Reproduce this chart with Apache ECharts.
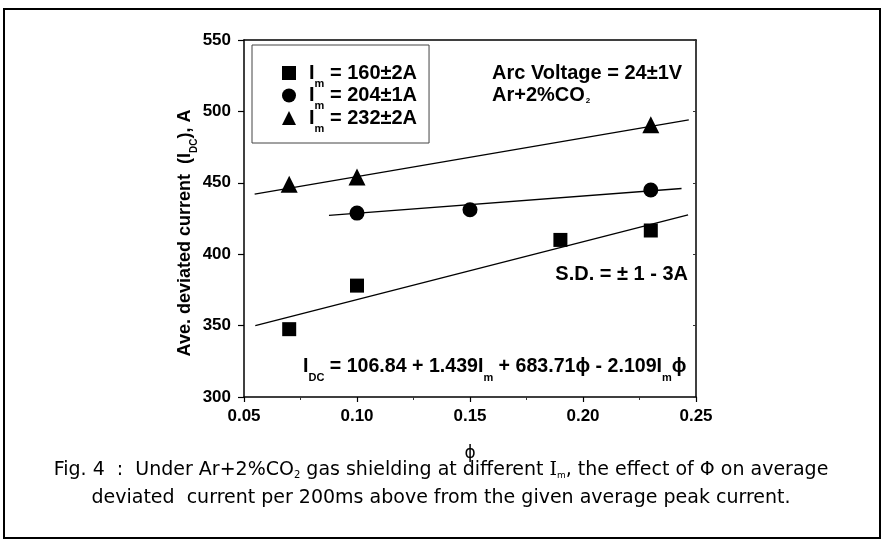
<!DOCTYPE html>
<html><head><meta charset="utf-8">
<script src="https://cdn.jsdelivr.net/npm/echarts@6/dist/echarts.min.js"></script>
<style>html,body{margin:0;padding:0;background:#fff}#c{width:882px;height:540px}</style>
</head><body><div id="c"></div>
<script>
// ---- data ----
const xTicks = [0.05, 0.10, 0.15, 0.20, 0.25];
const yTicks = [300, 350, 400, 450, 500, 550];
const seriesNames = ['Im160', 'Im204', 'Im232'];
const legendLabels = [' = 160±2A', ' = 204±1A', ' = 232±2A'];
const pts160 = [[0.07, 347.5], [0.10, 378], [0.19, 410], [0.23, 416.6]];
const pts204 = [[0.10, 428.8], [0.15, 431.1], [0.23, 445]];
const pts232 = [[0.07, 449], [0.10, 454], [0.23, 490.7]];
const fit160 = [[0.055, 350], [0.2465, 427.5]];
const fit204 = [[0.0876, 427.2], [0.2436, 446]];
const fit232 = [[0.0547, 442], [0.2468, 494]];

const FAM = '"Liberation Sans", Arial, sans-serif';
const BOLD = 'bold 20px "Liberation Sans", Arial, sans-serif';
const mainTok = { fontFamily: FAM, fontWeight: 'bold', fontSize: 20, color: '#000' };
const subTok = { fontFamily: FAM, fontWeight: 'bold', fontSize: 11, color: '#000', padding: [21, 0, 0, 0] };
const CAP = '"DejaVu Sans", sans-serif';

const chart = echarts.init(document.getElementById('c'), null, { renderer: 'canvas' });
const fitStyle = { color: '#000', width: 1.3 };
const ptStyle = { color: '#000', opacity: 1 };
const option = {
  backgroundColor: '#fff',
  animation: false,
  grid: { left: 244, top: 40, width: 452, height: 357 },
  legend: {
    left: 252, top: 45, orient: 'vertical',
    data: seriesNames,
    itemWidth: 14, itemHeight: 14, itemGap: -3.5,
    padding: [18, 12, 9, 30],
    borderColor: '#444', borderWidth: 1, borderRadius: 0,
    formatter: function (name) {
      const i = seriesNames.indexOf(name);
      return '{a|I}{s|m}{a|' + legendLabels[i] + '}';
    },
    textStyle: { padding: [0, 0, 0, 8], rich: { a: mainTok, s: subTok } }
  },
  xAxis: [{
    type: 'value', min: xTicks[0], max: xTicks[xTicks.length - 1], interval: 0.05,
    name: 'ϕ', nameLocation: 'middle', nameGap: 48,
    nameTextStyle: { fontFamily: '"DejaVu Sans", sans-serif', fontSize: 17, color: '#000' },
    axisLine: { lineStyle: { color: '#000', width: 1.5 } },
    axisTick: { show: true, inside: false, length: 5, lineStyle: { color: '#000', width: 1.2 } },
    minorTick: { show: true, splitNumber: 2, length: 3, lineStyle: { color: '#333' } },
    axisLabel: { formatter: v => v.toFixed(2), fontFamily: FAM, fontWeight: 'bold', fontSize: 17, color: '#000', margin: 11 },
    splitLine: { show: false }
  }, {
    type: 'value', position: 'top', min: xTicks[0], max: xTicks[xTicks.length - 1], interval: 0.05,
    axisLine: { show: true, lineStyle: { color: '#000', width: 1.5 } },
    axisTick: { show: false }, axisLabel: { show: false }, splitLine: { show: false }
  }],
  yAxis: [{
    type: 'value', min: yTicks[0], max: yTicks[yTicks.length - 1], interval: 50,
    axisLine: { show: true, lineStyle: { color: '#000', width: 1.5 } },
    axisTick: { show: true, inside: false, length: 6, lineStyle: { color: '#000', width: 1.2 } },
    axisLabel: { fontFamily: FAM, fontWeight: 'bold', fontSize: 17, color: '#000', margin: 13 },
    splitLine: { show: false }
  }, {
    type: 'value', position: 'right', min: yTicks[0], max: yTicks[yTicks.length - 1], interval: 50,
    axisLine: { show: true, lineStyle: { color: '#000', width: 1.5 } },
    axisTick: { show: true, inside: true, length: 3, lineStyle: { color: '#333' } },
    axisLabel: { show: false }, splitLine: { show: false }
  }],
  series: [
    { name: seriesNames[0], type: 'scatter', symbol: 'rect', symbolSize: 14, data: pts160, itemStyle: ptStyle },
    { name: seriesNames[1], type: 'scatter', symbol: 'circle', symbolSize: 15, data: pts204, itemStyle: ptStyle },
    { name: seriesNames[2], type: 'scatter', symbol: 'triangle', symbolSize: 17, data: pts232, itemStyle: ptStyle },
    { type: 'line', data: fit160, showSymbol: false, silent: true, lineStyle: fitStyle, z: 1 },
    { type: 'line', data: fit204, showSymbol: false, silent: true, lineStyle: fitStyle, z: 1 },
    { type: 'line', data: fit232, showSymbol: false, silent: true, lineStyle: fitStyle, z: 1 }
  ],
  graphic: [
    { type: 'rect', shape: { x: 4, y: 9, width: 876, height: 529 }, style: { fill: 'none', stroke: '#000', lineWidth: 2 }, silent: true },
    { type: 'text', x: 492, y: 73, style: { text: 'Arc Voltage = 24±1V', font: BOLD, fill: '#000', align: 'left', verticalAlign: 'middle' } },
    { type: 'text', x: 492, y: 95, style: { text: '{a|Ar+2%CO}{t|2}', align: 'left', verticalAlign: 'middle',
        rich: { a: mainTok, t: { fontFamily: FAM, fontWeight: 'bold', fontSize: 8, color: '#000', padding: [12, 0, 0, 1] } } } },
    { type: 'text', x: 688, y: 274, style: { text: 'S.D. = ± 1 - 3A', font: BOLD, fill: '#000', align: 'right', verticalAlign: 'middle' } },
    { type: 'text', x: 303, y: 367, style: { text: '{a|I}{s|DC}{a| = 106.84 + 1.439I}{s|m}{a| + 683.71ϕ - 2.109I}{s|m}{a|ϕ}', align: 'left', verticalAlign: 'middle',
        rich: { a: Object.assign({}, mainTok, { fontSize: 19.6 }), s: subTok } } },
    { type: 'text', x: 185, y: 233, rotation: Math.PI / 2, style: { text: '{a|Ave. deviated current  (I}{s|DC}{a|), A}', align: 'center', verticalAlign: 'middle',
        rich: { a: Object.assign({}, mainTok, { fontSize: 18 }), s: Object.assign({}, subTok, { fontSize: 10, padding: [19, 0, 0, 0] }) } } },
    { type: 'text', x: 441, y: 470, style: { text: '{c|Fig. 4  :  Under Ar+2%CO}{t|2}{c| gas shielding at different }{i|I}{m|m}{c|, the effect of Φ on average}', align: 'center', verticalAlign: 'middle',
        rich: {
          c: { fontFamily: CAP, fontSize: 19, color: '#000' },
          t: { fontFamily: CAP, fontSize: 10, color: '#000', padding: [11, 0, 0, 0] },
          i: { fontFamily: '"DejaVu Serif", serif', fontSize: 19, color: '#000' },
          m: { fontFamily: CAP, fontSize: 9, color: '#000', padding: [11, 0, 0, 0] }
        } } },
    { type: 'text', x: 441, y: 498, style: { text: 'deviated  current per 200ms above from the given average peak current.', align: 'center', verticalAlign: 'middle',
        font: '19px "DejaVu Sans", sans-serif', fill: '#000' } }
  ]
};
chart.setOption(option);
</script></body></html>
